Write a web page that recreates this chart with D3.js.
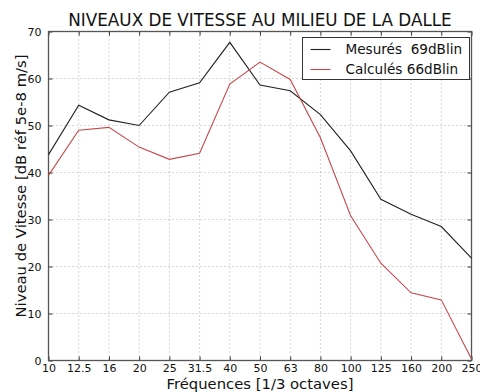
<!DOCTYPE html>
<html>
<head>
<meta charset="utf-8">
<script src="https://cdn.jsdelivr.net/npm/d3@7"></script>
<style>
  html, body { margin: 0; padding: 0; background: #fff; }
  svg { display: block; font-family: "DejaVu Sans", sans-serif; }
</style>
</head>
<body>
<svg id="chart" width="480" height="392"></svg>
<script>
// Third-octave band centre frequencies (Hz)
const frequencies = ["10", "12.5", "16", "20", "25", "31.5", "40", "50", "63", "80", "100", "125", "160", "200", "250"];
// Measured velocity levels, dB re 5e-8 m/s
const measured = [43.8, 54.3, 51.2, 50.0, 57.1, 59.1, 67.7, 58.6, 57.4, 52.3, 44.6, 34.3, 31.1, 28.5, 21.8];
// Computed velocity levels, dB re 5e-8 m/s
const computed = [39.4, 49.0, 49.6, 45.4, 42.8, 44.1, 58.8, 63.5, 59.8, 47.4, 30.8, 20.7, 14.4, 12.9, 0.3];
const yTicks = [0, 10, 20, 30, 40, 50, 60, 70];
const seriesNames = ["Mesurés  69dBlin", "Calculés 66dBlin"];
const seriesColors = ["#222222", "#c8474a"];

const svg = d3.select("#chart");
const margin = { left: 48.5, right: 8.5, top: 31.5, bottom: 31.5 };
const W = 480, H = 392;
const iw = W - margin.left - margin.right;
const ih = H - margin.top - margin.bottom;

const x = d3.scalePoint().domain(frequencies).range([0, iw]);
const y = d3.scaleLinear().domain([0, 70]).range([ih, 0]);

const g = svg.append("g").attr("transform", `translate(${margin.left},${margin.top})`);

// Dotted grid
g.append("g").selectAll("line").data(frequencies.slice(1, -1)).join("line")
  .attr("x1", d => x(d)).attr("x2", d => x(d)).attr("y1", 0).attr("y2", ih)
  .attr("stroke", "#999").attr("stroke-width", 0.8).attr("stroke-dasharray", "1,3");
g.append("g").selectAll("line").data(yTicks.slice(1, -1)).join("line")
  .attr("x1", 0).attr("x2", iw).attr("y1", d => y(d)).attr("y2", d => y(d))
  .attr("stroke", "#999").attr("stroke-width", 0.8).attr("stroke-dasharray", "1,3");

// Axes with inward ticks
const xAxis = g.append("g").attr("transform", `translate(0,${ih})`)
  .call(d3.axisBottom(x).tickSizeInner(-4).tickSizeOuter(0).tickPadding(3.5));
const xAxisTop = g.append("g")
  .call(d3.axisTop(x).tickSizeInner(-4).tickSizeOuter(0).tickFormat(""));
const yAxis = g.append("g")
  .call(d3.axisLeft(y).tickValues(yTicks).tickSizeInner(-4).tickSizeOuter(0).tickPadding(7));
const yAxisRight = g.append("g").attr("transform", `translate(${iw},0)`)
  .call(d3.axisRight(y).tickValues(yTicks).tickSizeInner(-4).tickSizeOuter(0).tickFormat(""));

[xAxis, xAxisTop, yAxis, yAxisRight].forEach(a => {
  a.select(".domain").remove();
  a.selectAll("line").attr("stroke", "#333").attr("stroke-width", 1);
  a.selectAll("text").attr("font-family", "DejaVu Sans, sans-serif")
    .attr("font-size", 11).attr("fill", "#111");
});
yAxis.selectAll("text").attr("dy", "0.36em");

// Frame
g.append("rect").attr("x", 0).attr("y", 0).attr("width", iw).attr("height", ih)
  .attr("fill", "none").attr("stroke", "#555").attr("stroke-width", 1.3);

// Series lines
const line = d3.line().x((d, i) => x(frequencies[i])).y(d => y(d));
[measured, computed].forEach((vals, k) => {
  g.append("path").datum(vals).attr("d", line)
    .attr("fill", "none").attr("stroke", seriesColors[k]).attr("stroke-width", 1.1);
});

// Legend
const lg = g.append("g").attr("transform", `translate(${254},${6})`);
lg.append("rect").attr("x", 0).attr("y", 0).attr("width", 167).attr("height", 42)
  .attr("fill", "#fff").attr("stroke", "#333").attr("stroke-width", 1);
seriesNames.forEach((name, k) => {
  const yy = 12 + k * 20;
  lg.append("line").attr("x1", 8).attr("x2", 28).attr("y1", yy).attr("y2", yy)
    .attr("stroke", seriesColors[k]).attr("stroke-width", 1.1);
  lg.append("text").attr("x", 43).attr("y", yy).attr("dy", "0.35em")
    .attr("font-size", 13.6).attr("fill", "#111").attr("xml:space", "preserve")
    .text(name);
});

// Title and axis labels
svg.append("text").attr("x", margin.left + iw / 2).attr("y", 26)
  .attr("text-anchor", "middle").attr("font-size", 16.8).attr("fill", "#111")
  .text("NIVEAUX DE VITESSE AU MILIEU DE LA DALLE");
svg.append("text").attr("x", margin.left + iw / 2).attr("y", 389)
  .attr("text-anchor", "middle").attr("font-size", 14.8).attr("fill", "#111")
  .text("Fréquences [1/3 octaves]");
svg.append("text")
  .attr("transform", `translate(25.5,186) rotate(-90)`)
  .attr("text-anchor", "middle").attr("font-size", 14.8).attr("fill", "#111")
  .text("Niveau de Vitesse [dB réf 5e-8 m/s]");
</script>
</body>
</html>
